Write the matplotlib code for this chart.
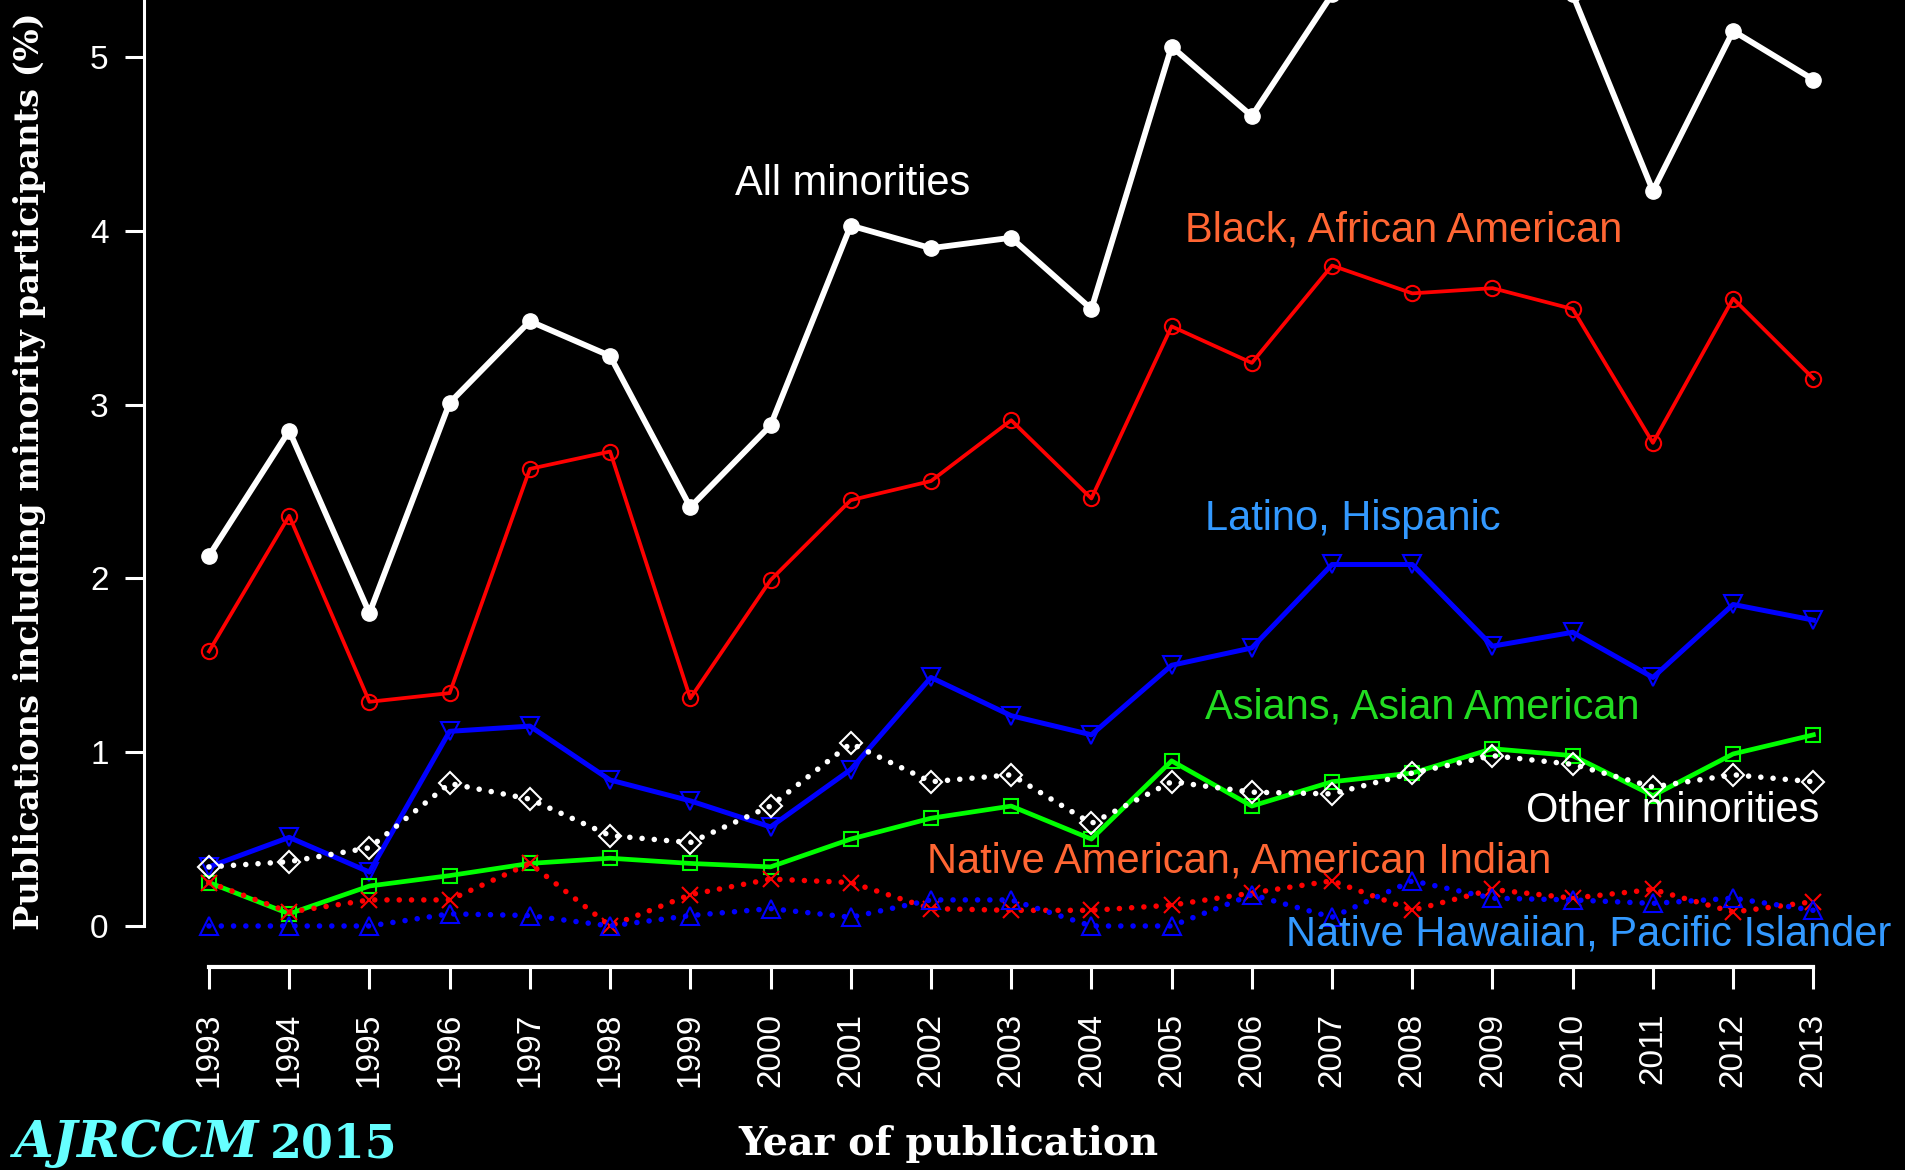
import matplotlib
matplotlib.use("Agg")
import matplotlib.pyplot as plt

plt.rcParams['font.family'] = ['Liberation Sans', 'DejaVu Sans']

years = list(range(1993, 2014))

# percent of publications (values above 5.33 are cut off in the original)
all_minorities = [2.13, 2.85, 1.80, 3.01, 3.48, 3.28, 2.41, 2.88, 4.03, 3.90, 3.96,
                  3.55, 5.06, 4.66, 5.36, 5.55, 5.60, 5.36, 4.23, 5.15, 4.87]
black = [1.58, 2.36, 1.29, 1.34, 2.63, 2.73, 1.31, 1.99, 2.45, 2.56, 2.91,
         2.46, 3.45, 3.24, 3.80, 3.64, 3.67, 3.55, 2.78, 3.61, 3.15]
latino = [0.34, 0.51, 0.31, 1.12, 1.15, 0.84, 0.72, 0.57, 0.90, 1.43, 1.21,
          1.10, 1.50, 1.60, 2.08, 2.08, 1.61, 1.69, 1.43, 1.85, 1.76]
asian = [0.25, 0.07, 0.23, 0.29, 0.36, 0.39, 0.36, 0.34, 0.50, 0.62, 0.69,
         0.50, 0.95, 0.69, 0.83, 0.88, 1.02, 0.98, 0.75, 0.99, 1.10]
other = [0.34, 0.37, 0.45, 0.82, 0.73, 0.52, 0.48, 0.69, 1.05, 0.83, 0.87,
         0.59, 0.83, 0.77, 0.76, 0.88, 0.98, 0.93, 0.80, 0.87, 0.83]
native_am = [0.25, 0.08, 0.15, 0.15, 0.36, 0.00, 0.18, 0.27, 0.25, 0.10, 0.09,
             0.09, 0.12, 0.19, 0.26, 0.09, 0.21, 0.16, 0.21, 0.08, 0.14]
hawaiian = [0.00, 0.00, 0.00, 0.07, 0.06, 0.00, 0.06, 0.10, 0.05, 0.15, 0.15,
            0.00, 0.00, 0.18, 0.05, 0.26, 0.16, 0.15, 0.13, 0.16, 0.09]

fig = plt.figure(figsize=(19.06, 11.70), dpi=100, facecolor='black')
ax = fig.add_axes([144/1906, 203/1170, 1756/1906, 967/1170])
ax.set_facecolor('black')

dots = (0, (0.01, 2.2))
ax.plot(years, all_minorities, color='white', lw=4.2, marker='o', ms=11)
ax.plot(years, black, color='red', lw=2.7, marker='o', ms=11, mfc='none', mew=1.5)
ax.plot(years, latino, color='blue', lw=3.6, marker='v', ms=13, mfc='none', mew=1.5)
ax.plot(years, asian, color='#00FF00', lw=3.4, marker='s', ms=10, mfc='none', mew=1.5)
ax.plot(years, other, color='white', lw=4, ls=dots, dash_capstyle='round',
        marker='D', ms=11, mfc='none', mew=1.5)
ax.plot(years, native_am, color='red', lw=4, ls=dots, dash_capstyle='round',
        marker='x', ms=12, mew=1.5)
ax.plot(years, hawaiian, color='blue', lw=4, ls=dots, dash_capstyle='round',
        marker='^', ms=13, mfc='none', mew=1.5)

ax.set_xlim(1992.19, 2014.08)
ax.set_ylim(-0.236, 5.328)

for s in ['top', 'right']:
    ax.spines[s].set_visible(False)
ax.spines['left'].set_bounds(0, 5.328)
ax.spines['bottom'].set_bounds(1993, 2013)
ax.spines['left'].set_color('white')
ax.spines['bottom'].set_color('white')
ax.spines['left'].set_linewidth(2.2)
ax.spines['bottom'].set_linewidth(3)

ax.set_xticks(years)
ax.set_xticklabels([str(y) for y in years], rotation=90, va='top')
ax.set_yticks([0, 1, 2, 3, 4, 5])
ax.tick_params(axis='y', colors='white', labelsize=24, length=13.5, width=2.2, pad=12)
ax.tick_params(axis='x', colors='white', labelsize=24, length=16, width=2.2, pad=17)

ax.text(1999.56, 4.27, 'All minorities', color='white', fontsize=30, va='center')
ax.text(2005.17, 4.00, 'Black, African American', color='#FF6633', fontsize=30, va='center')
ax.text(2005.42, 2.34, 'Latino, Hispanic', color='#3399FF', fontsize=30, va='center')
ax.text(2005.42, 1.26, 'Asians, Asian American', color='#22DD22', fontsize=30, va='center')
ax.text(2009.42, 0.66, 'Other minorities', color='white', fontsize=30, va='center')
ax.text(2001.95, 0.37, 'Native American, American Indian', color='#FF6633', fontsize=30,
        va='center', clip_on=False)
ax.text(2006.42, -0.05, 'Native Hawaiian, Pacific Islander', color='#3399FF', fontsize=30,
        va='center', clip_on=False)

fig.text(30/1906, 0.597, 'Publications including minority participants (%)', color='white',
         rotation=90, ha='center', va='center', fontsize=24.3, fontweight='bold',
         family='DejaVu Serif')
fig.text(0.4975, 0.022, 'Year of publication', color='white', ha='center', va='center',
         fontsize=28.5, fontweight='bold', family='DejaVu Serif')
fig.text(13/1906, 0.011, 'AJRCCM', color='#66FFFF', ha='left', va='baseline',
         fontsize=37, fontweight='bold', style='italic', family='DejaVu Serif')
fig.text(270/1906, 0.011, '2015', color='#66FFFF', ha='left', va='baseline',
         fontsize=33, fontweight='bold', family='DejaVu Serif')

fig.savefig('out.png', dpi=100, facecolor='black')
